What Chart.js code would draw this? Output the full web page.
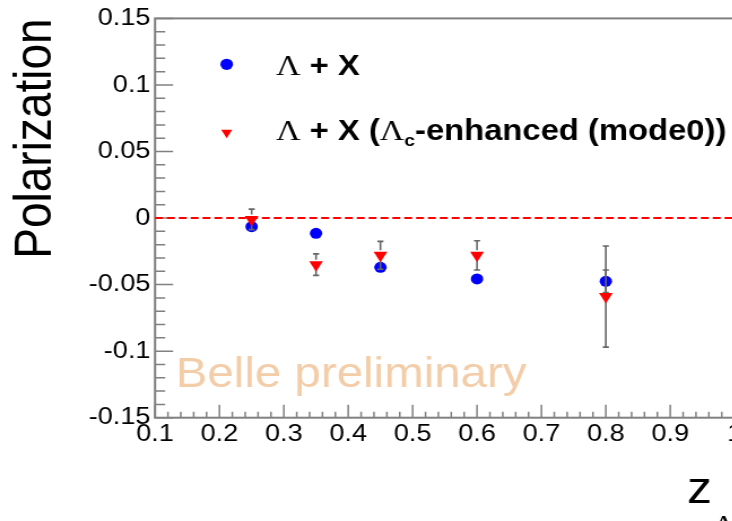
<!DOCTYPE html>
<html>
<head>
<meta charset="utf-8">
<title>Polarization vs z</title>
<script src="https://cdn.jsdelivr.net/npm/chart.js@4.4.1/dist/chart.umd.min.js"></script>
<style>
  html, body { margin: 0; padding: 0; background: #fff; overflow: hidden; width: 732px; height: 521px; }
  /* the canvas is widened horizontally, as in the original figure */
  #wrap { position: absolute; left: 0; top: 0; width: 660px; height: 521px; transform: scaleX(1.13); transform-origin: 0 0; }
  canvas { display: block; }
</style>
</head>
<body>
<div id="wrap"><canvas id="c" width="660" height="521"></canvas></div>
<script>
// z_Lambda bin centres
const zBins = [0.25, 0.35, 0.45, 0.6, 0.8];

// Lambda + X
const polLambda = [-0.0065, -0.0115, -0.037, -0.0457, -0.0475];
const errLambda = [0.004, 0.004, 0.004, 0.004, 0.0085];

// Lambda + X (Lambda_c-enhanced, mode0)
const polLambdaC = [-0.001, -0.035, -0.028, -0.028, -0.059];
const errLambdaC = [0.0077, 0.0081, 0.0105, 0.011, 0.038];

// axes
const xRange = [0.1, 1.0];
const yRange = [-0.15, 0.15];
const xTickValues = [0.1, 0.2, 0.3, 0.4, 0.5, 0.6, 0.7, 0.8, 0.9, 1.0];
const xTickLabels = ['0.1', '0.2', '0.3', '0.4', '0.5', '0.6', '0.7', '0.8', '0.9', '1'];
const yTickValues = [-0.15, -0.1, -0.05, 0, 0.05, 0.1, 0.15];
const yTickLabels = ['-0.15', '-0.1', '-0.05', '0', '0.05', '0.1', '0.15'];
const zeroLevel = 0;

const yTitle = 'Polarization';
const watermark = 'Belle preliminary';

const SANS = '"Liberation Sans", Arial, Helvetica, sans-serif';
const SERIF = '"Liberation Serif", "Times New Roman", serif';
const AXIS_COLOR = '#808080';
const ERR_COLOR = '#666666';

const toPoints = (vals) => zBins.map((z, i) => ({ x: z, y: vals[i] }));

// error bars drawn beneath each series' own markers, leaving a gap round the marker
const errorBars = {
  id: 'errorBars',
  beforeDatasetDraw(chart, args) {
    const ds = chart.data.datasets[args.index];
    if (!ds.errors) return;
    const { ctx, scales: { x, y } } = chart;
    const gap = ds.errorGap;
    const cap = 2.7;
    ctx.save();
    ctx.strokeStyle = ERR_COLOR;
    ctx.lineWidth = 1.6;
    ds.data.forEach((p, i) => {
      const px = x.getPixelForValue(p.x);
      const yc = y.getPixelForValue(p.y);
      const yt = y.getPixelForValue(p.y + ds.errors[i]);
      const yb = y.getPixelForValue(p.y - ds.errors[i]);
      ctx.beginPath();
      if (yc - yt > gap) {
        ctx.moveTo(px, yc - gap); ctx.lineTo(px, yt);
        ctx.moveTo(px - cap, yt); ctx.lineTo(px + cap, yt);
      }
      if (yb - yc > gap) {
        ctx.moveTo(px, yc + gap); ctx.lineTo(px, yb);
        ctx.moveTo(px - cap, yb); ctx.lineTo(px + cap, yb);
      }
      ctx.stroke();
    });
    ctx.restore();
  }
};

// frame with inward-pointing major and minor ticks
const axisFrame = {
  id: 'axisFrame',
  beforeDatasetsDraw(chart) {
    const { ctx, chartArea: a, scales: { x, y } } = chart;
    ctx.save();
    ctx.strokeStyle = AXIS_COLOR;
    ctx.lineWidth = 2;
    ctx.strokeRect(a.left, a.top, a.right - a.left, a.bottom - a.top);
    ctx.lineWidth = 1.5;
    ctx.beginPath();
    const ny = Math.round((y.max - y.min) / 0.01);
    for (let i = 0; i <= ny; i++) {
      const py = y.getPixelForValue(y.min + i * 0.01);
      const len = i % 5 === 0 ? 16 : 9;
      ctx.moveTo(a.left, py); ctx.lineTo(a.left + len, py);
    }
    const nx = Math.round((x.max - x.min) / 0.02);
    for (let i = 0; i <= nx; i++) {
      const px = x.getPixelForValue(x.min + i * 0.02);
      const len = i % 5 === 0 ? 13 : 6;
      ctx.moveTo(px, a.bottom); ctx.lineTo(px, a.bottom - len);
    }
    ctx.stroke();
    ctx.restore();
  }
};

function drawRuns(ctx, x, baseline, runs) {
  for (const r of runs) {
    ctx.font = r.font;
    ctx.fillText(r.text, x, baseline + (r.dy || 0));
    x += ctx.measureText(r.text).width;
  }
}

const LEG_BOLD = 'bold 29px ' + SANS;
const LEG_SYM = '30px ' + SERIF;
const LEG_SUB = 'bold 17px ' + SANS;

const legendRows = [
  [{ text: 'Λ', font: LEG_SYM }, { text: ' + X', font: LEG_BOLD }],
  [{ text: 'Λ', font: LEG_SYM }, { text: ' + X (', font: LEG_BOLD }, { text: 'Λ', font: LEG_SYM },
   { text: 'c', font: LEG_SUB, dy: 5.5 }, { text: '-enhanced (mode0))', font: LEG_BOLD }]
];

// legend, watermark and x-axis title
const annotations = {
  id: 'annotations',
  afterDatasetsDraw(chart) {
    const { ctx } = chart;
    ctx.save();
    ctx.textAlign = 'left';
    ctx.textBaseline = 'alphabetic';

    // watermark
    ctx.fillStyle = '#f2cda8';
    ctx.font = '42px ' + SANS;
    ctx.fillText(watermark, 155.5, 386.7);

    // legend
    const entries = [
      { ds: chart.data.datasets[0], markerY: 64.3, baseline: 75 },
      { ds: chart.data.datasets[1], markerY: 132.6, baseline: 140 }
    ];
    entries.forEach((e, i) => {
      ctx.fillStyle = e.ds.backgroundColor;
      Chart.helpers.drawPoint(ctx, {
        pointStyle: e.ds.pointStyle,
        rotation: e.ds.rotation || 0,
        radius: e.ds.legendRadius,
        borderWidth: 0
      }, 200.6, e.markerY);
      ctx.fillStyle = '#000';
      drawRuns(ctx, 244.2, e.baseline, legendRows[i]);
    });

    // x-axis title z_Lambda
    ctx.fillStyle = '#000';
    ctx.font = '44px ' + SANS;
    ctx.fillText('z', 608, 503);
    ctx.font = '28px ' + SERIF;
    ctx.fillText('Λ', 630.5, 534);
    ctx.restore();
  }
};

new Chart(document.getElementById('c'), {
  type: 'scatter',
  data: {
    datasets: [
      {
        label: 'Λ + X',
        data: toPoints(polLambda),
        errors: errLambda,
        errorGap: 5.4,
        pointStyle: 'circle',
        pointRadius: 5.5,
        legendRadius: 5.6,
        backgroundColor: '#0000ff',
        borderWidth: 0,
        order: 2
      },
      {
        label: 'Λ + X (Λc-enhanced (mode0))',
        data: toPoints(polLambdaC),
        errors: errLambdaC,
        errorGap: 5,
        pointStyle: 'triangle',
        rotation: 180,
        pointRadius: 7,
        legendRadius: 5.6,
        backgroundColor: '#ff0000',
        borderWidth: 0,
        order: 1
      },
      {
        label: 'zero',
        data: [{ x: xRange[0], y: zeroLevel }, { x: xRange[1], y: zeroLevel }],
        showLine: true,
        borderColor: '#ff0000',
        borderWidth: 2,
        borderDash: [7, 3.5],
        pointRadius: 0,
        order: 3
      }
    ]
  },
  options: {
    responsive: false,
    animation: false,
    events: [],
    layout: { padding: { left: 0, right: 9.9, top: 17, bottom: 0 } },
    plugins: { legend: { display: false }, tooltip: { enabled: false } },
    scales: {
      x: {
        type: 'linear',
        position: 'bottom',
        min: xRange[0],
        max: xRange[1],
        grid: { display: false, drawTicks: false },
        border: { display: false },
        ticks: {
          color: '#000',
          font: { family: SANS, size: 24 },
          padding: 2,
          maxRotation: 0,
          autoSkip: false,
          callback: (v, i) => xTickLabels[i]
        },
        afterBuildTicks: (s) => { s.ticks = xTickValues.map(v => ({ value: v })); },
        afterFit: (s) => { s.height = 103.3; }
      },
      y: {
        type: 'linear',
        position: 'left',
        min: yRange[0],
        max: yRange[1],
        grid: { display: false, drawTicks: false },
        border: { display: false },
        ticks: {
          color: '#000',
          font: { family: SANS, size: 24 },
          padding: 4,
          autoSkip: false,
          callback: (v, i) => yTickLabels[i]
        },
        title: {
          display: true,
          text: yTitle,
          align: 'end',
          color: '#000',
          font: { family: SANS, size: 46, lineHeight: 1 },
          padding: { top: 9.5, bottom: 0 }
        },
        afterBuildTicks: (s) => { s.ticks = yTickValues.map(v => ({ value: v })); },
        afterFit: (s) => { s.width = 137.2; }
      }
    }
  },
  plugins: [axisFrame, errorBars, annotations]
});
</script>
</body>
</html>
